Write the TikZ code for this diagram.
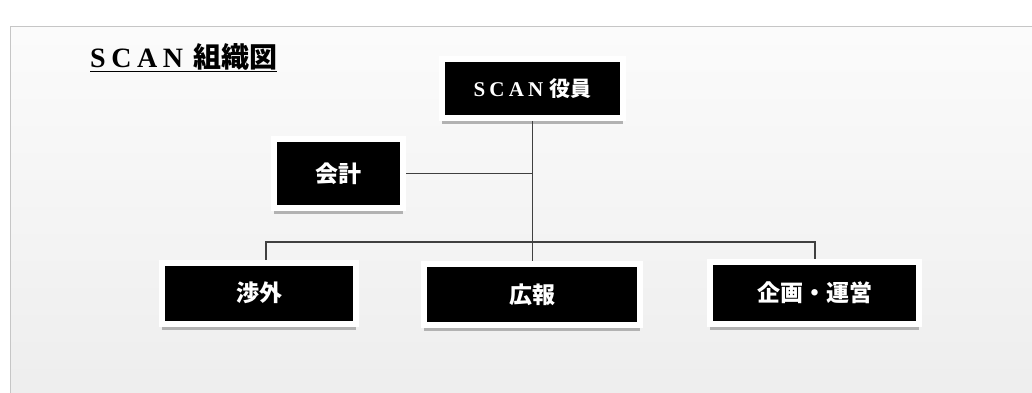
\documentclass[tikz,border=0pt]{standalone}
\usepackage{fontspec}
\setmainfont{Liberation Serif}
\newfontfamily\jfont{Noto Sans CJK JP}
\newfontfamily\wfont{Liberation Serif}[LetterSpace=20]
\usetikzlibrary{shadows}

\begin{document}
\begin{tikzpicture}[x=1pt,y=-1pt,
  unit/.style={fill=black,draw=white,line width=6pt,text=white,inner sep=0pt,
    font=\jfont\bfseries\fontsize{23}{23}\selectfont,
    drop shadow={shadow xshift=0pt,shadow yshift=-6pt,fill=gray!60,opacity=1}},
  wire/.style={draw=black!75,line width=1.1pt}]
\useasboundingbox (0,0) rectangle (1032,392);
\fill[white] (0,0) rectangle (1032,392);
\shade[top color=gray!3,bottom color=gray!14,draw=gray!45] (10,26) rectangle (1045,405);

\node[anchor=base west,inner sep=0pt,font=\bfseries\fontsize{28}{28}\selectfont] (title) at (90,67)
  {\underline{{\wfont SCAN}\kern 10pt{\jfont 組織図}}};

\node[unit,minimum width=181pt,minimum height=59pt,font=\jfont\bfseries\fontsize{21}{21}\selectfont] (board) at (532.5,88.5) {{\wfont SCAN}\kern 6pt 役員};
\node[unit,minimum width=129pt,minimum height=69pt] (kaikei) at (338.5,173.5) {会計};
\node[unit,minimum width=194pt,minimum height=61pt] (shogai) at (259,293) {渉外};
\node[unit,minimum width=216pt,minimum height=61pt] (koho) at (532,294.5) {広報};
\node[unit,minimum width=209pt,minimum height=62pt] (kikaku) at (814.5,293) {企画・運営};

\coordinate (busL) at (266,242);
\coordinate (busR) at (815,242);
\draw[wire] (board.south) -- (board.south |- koho.north);
\draw[wire] (kaikei.east) -- (kaikei.east -| board.south);
\draw[wire] (shogai.north -| busL) -- (busL) -- (busR) -- (kikaku.north -| busR);
\end{tikzpicture}
\end{document}
